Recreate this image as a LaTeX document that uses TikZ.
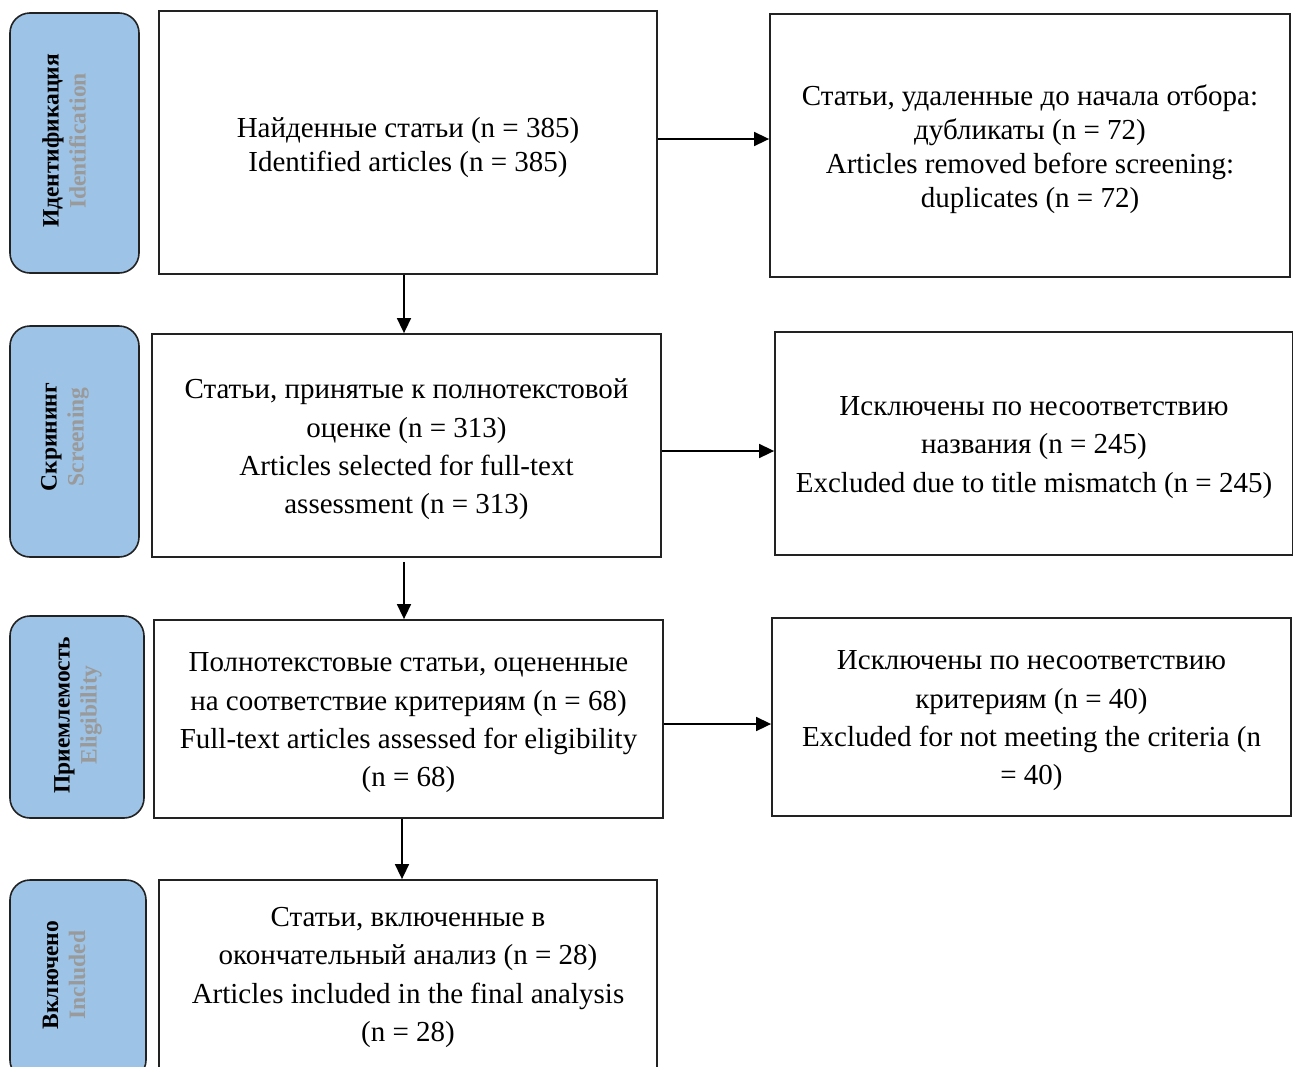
\documentclass[tikz,border=0pt]{standalone}
\usepackage{fontspec}
\setmainfont{Liberation Serif}
\usetikzlibrary{arrows.meta}
\definecolor{sidefill}{HTML}{9DC3E6}
\definecolor{engray}{HTML}{9A9A9A}
\definecolor{lineclr}{HTML}{222222}
\tikzset{
  mainbox/.style={draw=lineclr, line width=1.8pt, inner sep=0pt},
  txt/.style={align=center, inner sep=0pt},
  tight/.style={txt, font=\fontsize{29}{34}\selectfont},
  loose/.style={txt, font=\fontsize{29}{38.3}\selectfont},
  sidebox/.style={draw=lineclr, fill=sidefill, line width=1.6pt, rounded corners=20pt, inner sep=0pt},
  sidelabel/.style={rotate=90, align=center, inner sep=0pt, font=\bfseries\fontsize{23.5}{27}\selectfont},
  arr/.style={draw=black, line width=1.6pt, -{Triangle[length=15pt,width=14pt]}}
}
\begin{document}
\begin{tikzpicture}[x=1pt,y=-1pt]
\useasboundingbox (0,0) rectangle (1293,1066);
\clip (0,0) rectangle (1293,1066);
\fill[white] (0,0) rectangle (1293,1066);

% side boxes
\node[sidebox, minimum width=129pt, minimum height=260pt] (s1) at (74.5,143) {};
\node[sidebox, minimum width=129pt, minimum height=231pt] (s2) at (74.5,441.5) {};
\node[sidebox, minimum width=134pt, minimum height=202pt] (s3) at (77,717) {};
\node[sidebox, minimum width=136pt, minimum height=200pt] (s4) at (78,980) {};

\node[sidelabel] (l1) at (64,141) {Идентификация\\\textcolor{engray}{Identification}};
\node[sidelabel] (l2) at (65,437) {Скрининг\\\textcolor{engray}{Screening}};
\node[sidelabel] (l3) at (78,715) {Приемлемость\\\textcolor{engray}{Eligibility}};
\node[sidelabel] (l4) at (64,975) {Включено\\\textcolor{engray}{Included}};

% main boxes
\node[mainbox, minimum width=498pt, minimum height=263pt] (A) at (408,142.5) {};
\node[mainbox, minimum width=520pt, minimum height=263pt] (B) at (1030,145.5) {};
\node[mainbox, minimum width=509pt, minimum height=223pt] (C) at (406.5,445.5) {};
\node[mainbox, minimum width=518pt, minimum height=223pt] (D) at (1034,443.5) {};
\node[mainbox, minimum width=509pt, minimum height=198pt] (E) at (408.5,719) {};
\node[mainbox, minimum width=519pt, minimum height=198pt] (F) at (1031.5,717) {};
\node[mainbox, minimum width=498pt, minimum height=192pt] (G) at (408,976) {};

% box texts
\node[tight] (At) at ([yshift=-5pt]A.center)
  {Найденные статьи (n = 385)\\Identified articles (n = 385)};
\node[tight] (Bt) at ([yshift=-4pt]B.center)
  {Статьи, удаленные до начала отбора:\\дубликаты (n = 72)\\Articles removed before screening:\\duplicates (n = 72)};
\node[loose] (Ct) at ([yshift=-4pt]C.center)
  {Статьи, принятые к полнотекстовой\\оценке (n = 313)\\Articles selected for full-text\\assessment (n = 313)};
\node[loose] (Dt) at ([yshift=-4pt]D.center)
  {Исключены по несоответствию\\названия (n = 245)\\Excluded due to title mismatch (n = 245)};
\node[loose] (Et) at ([yshift=-4pt]E.center)
  {Полнотекстовые статьи, оцененные\\на соответствие критериям (n = 68)\\Full-text articles assessed for eligibility\\(n = 68)};
\node[loose] (Ft) at ([yshift=-4pt]F.center)
  {Исключены по несоответствию\\критериям (n = 40)\\Excluded for not meeting the criteria (n\\= 40)};
\node[loose] (Gt) at ([yshift=-1.5pt]G.center)
  {Статьи, включенные в\\окончательный анализ (n = 28)\\Articles included in the final analysis\\(n = 28)};

% guide coordinates
\coordinate (yab) at (0,139);
\coordinate (ycd) at (0,451);
\coordinate (yef) at (0,724);
\coordinate (xac) at (404,0);
\coordinate (xeg) at (402,0);

% connectors
\draw[arr] (A.east |- yab) -- (B.west |- yab);
\draw[arr] (A.south -| xac) -- (C.north -| xac);
\draw[arr] (C.east |- ycd) -- (D.west |- ycd);
\draw[arr] ([yshift=-4pt]C.south -| xac) -- (E.north -| xac);
\draw[arr] (E.east |- yef) -- (F.west |- yef);
\draw[arr] (E.south -| xeg) -- (G.north -| xeg);
\end{tikzpicture}
\end{document}
